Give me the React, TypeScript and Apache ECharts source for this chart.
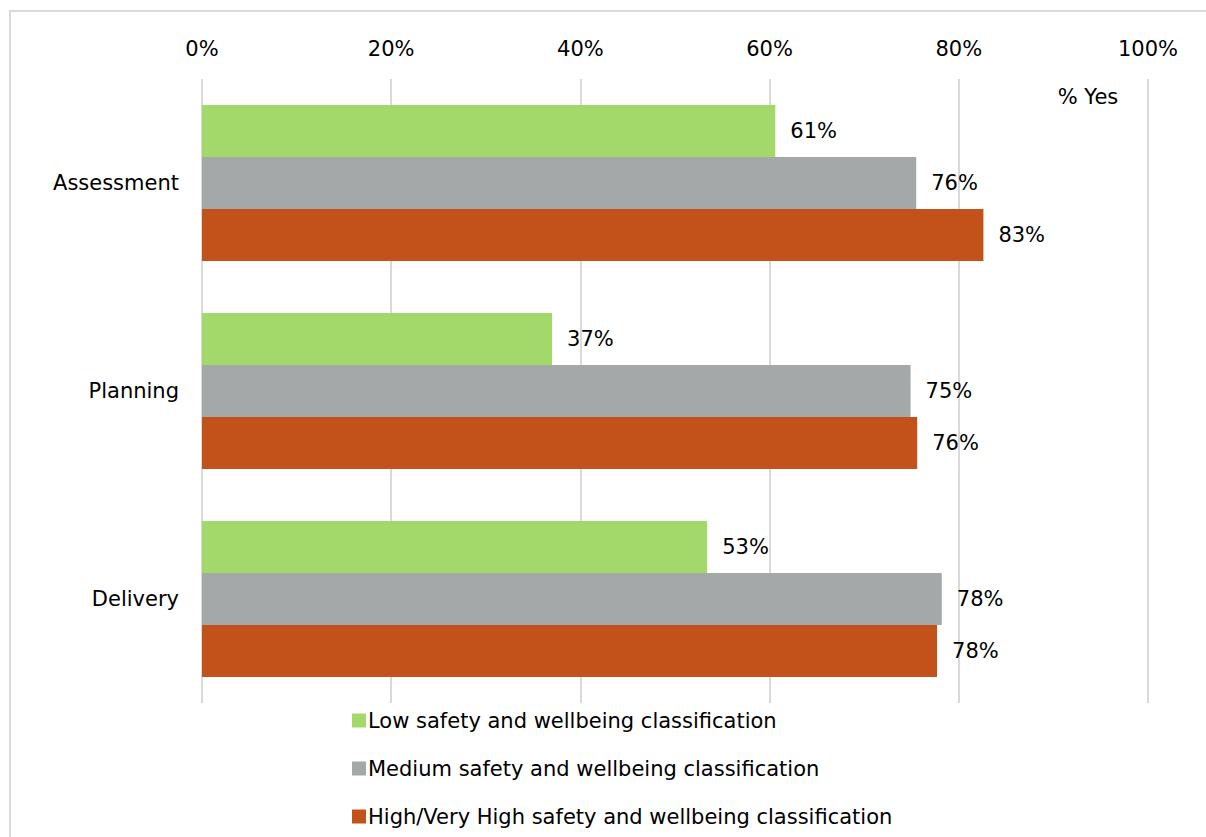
import React, { useEffect, useRef } from "react";
import * as echarts from "echarts";

const categories = ["Assessment", "Planning", "Delivery"];
const seriesNames = [
  "Low safety and wellbeing classification",
  "Medium safety and wellbeing classification",
  "High/Very High safety and wellbeing classification",
];
const lowValues = [60.6, 37.0, 53.4];
const mediumValues = [75.5, 74.9, 78.2];
const highValues = [82.6, 75.6, 77.7];
const colors = ["#A3D86B", "#A5A8A9", "#C3521A"];

const FONT = "DejaVu Sans";
const FS = 21;

export default function App() {
  const ref = useRef<HTMLDivElement>(null);
  useEffect(() => {
    if (!ref.current) return;
    const chart = echarts.init(ref.current, null, { renderer: "svg" });
    const mk = (name: string, data: number[], color: string) => ({
      name,
      type: "bar",
      data,
      barGap: "0%",
      barCategoryGap: "25%",
      itemStyle: { color },
      label: {
        show: true,
        position: "right",
        distance: 15,
        color: "#000",
        fontFamily: FONT,
        fontSize: FS,
        formatter: (p: any) => Math.round(p.value) + "%",
      },
    });
    chart.setOption({
      animation: false,
      backgroundColor: "#fff",
      textStyle: { fontFamily: FONT },
      grid: { left: 202, right: 58, top: 79, bottom: 134 },
      xAxis: {
        type: "value",
        position: "top",
        min: 0,
        max: 100,
        interval: 20,
        axisLine: { show: false },
        axisTick: { show: false },
        axisLabel: {
          formatter: "{value}%",
          color: "#000",
          fontFamily: FONT,
          fontSize: FS,
          margin: 20,
        },
        splitLine: { show: true, lineStyle: { color: "#D9D9D9", width: 2 } },
      },
      yAxis: {
        type: "category",
        data: categories,
        inverse: true,
        axisLine: { show: false },
        axisTick: { show: false },
        axisLabel: { color: "#000", fontFamily: FONT, fontSize: FS, margin: 23 },
      },
      legend: {
        orient: "vertical",
        left: 347,
        top: 705,
        itemWidth: 14,
        itemHeight: 14,
        itemGap: 27,
        icon: "rect",
        textStyle: { color: "#000", fontFamily: FONT, fontSize: FS, lineHeight: 20, padding: [0, 0, 0, -3] },
        data: seriesNames,
      },
      graphic: [
        {
          type: "rect",
          shape: { x: 10, y: 11, width: 1400, height: 1000 },
          style: { fill: "none", stroke: "#D9D9D9", lineWidth: 2 },
          silent: true,
        },
        {
          type: "text",
          x: 1088,
          y: 97,
          style: {
            text: "% Yes",
            fill: "#000",
            font: `${FS}px "${FONT}"`,
            textAlign: "center",
            textVerticalAlign: "middle",
          },
        },
      ],
      series: [
        mk(seriesNames[0], lowValues, colors[0]),
        mk(seriesNames[1], mediumValues, colors[1]),
        mk(seriesNames[2], highValues, colors[2]),
      ],
    });
    return () => chart.dispose();
  }, []);
  return (
    <div
      ref={ref}
      style={{ position: "fixed", left: 0, top: 0, width: 1206, height: 837 }}
    />
  );
}
